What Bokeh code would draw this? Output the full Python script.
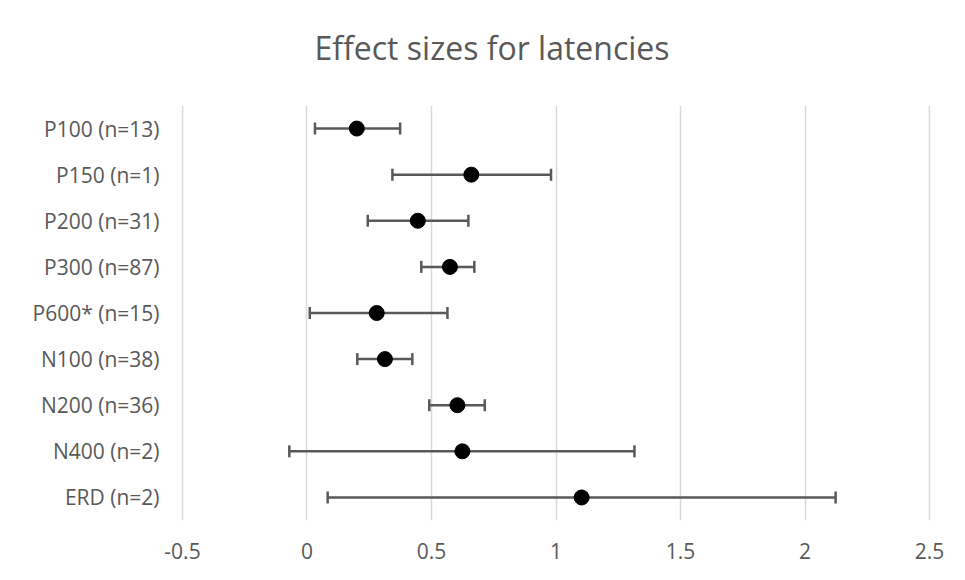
from bokeh.plotting import figure
from bokeh.models import ColumnDataSource, FactorRange, FixedTicker, Whisker, TeeHead, Range1d, Title
from bokeh.embed import file_html
from bokeh.resources import INLINE

categories = ["P100 (n=13)", "P150 (n=1)", "P200 (n=31)", "P300 (n=87)", "P600* (n=15)",
              "N100 (n=38)", "N200 (n=36)", "N400 (n=2)", "ERD (n=2)"]
effect = [0.20, 0.66, 0.445, 0.574, 0.28, 0.313, 0.604, 0.624, 1.103]
lower = [0.032, 0.343, 0.244, 0.459, 0.011, 0.202, 0.491, -0.071, 0.083]
upper = [0.374, 0.98, 0.648, 0.672, 0.564, 0.423, 0.714, 1.315, 2.123]
x_ticks = [-0.5, 0, 0.5, 1, 1.5, 2, 2.5]
x_tick_labels = ["-0.5", "0", "0.5", "1", "1.5", "2", "2.5"]

TXT = "#595959"
FONT = "Open Sans"

src = ColumnDataSource(dict(cat=categories, eff=effect, lo=lower, hi=upper))

p = figure(width=949, height=564, output_backend="svg", toolbar_location=None,
           y_range=FactorRange(factors=list(reversed(categories)), range_padding=0),
           x_range=Range1d(-0.504, 2.504),
           min_border_left=181, min_border_right=19, min_border_top=105, min_border_bottom=44)

p.title.text = "Effect sizes for latencies"
p.title.align = "left"
p.title.offset = 133
p.title.standoff = 10
p.title.text_font = FONT
p.title.text_font_size = "32px"
p.title.text_font_style = "normal"
p.title.text_color = TXT

# spacer between the title and the plot area
p.add_layout(Title(text=" ", text_font_size="12px", standoff=16), "above")

p.outline_line_color = None
p.background_fill_color = "white"
p.border_fill_color = "white"

p.xgrid.grid_line_color = "#d9d9d9"
p.xgrid.grid_line_width = 1.5
p.ygrid.grid_line_color = None

p.xaxis.ticker = FixedTicker(ticks=x_ticks)
p.xaxis.major_label_overrides = {t: l for t, l in zip(x_ticks, x_tick_labels)}
for ax in (p.xaxis, p.yaxis):
    ax.axis_line_color = None
    ax.major_tick_line_color = None
    ax.minor_tick_line_color = None
    ax.major_tick_in = 0
    ax.major_tick_out = 0
    ax.major_label_text_font = FONT
    ax.major_label_text_font_size = "21px"
    ax.major_label_text_color = TXT
p.xaxis.major_label_standoff = 22
p.yaxis.major_label_standoff = 22

wh = Whisker(source=src, base="cat", lower="lo", upper="hi", dimension="width",
             line_color="#595959", line_width=2.5,
             upper_head=TeeHead(size=12, line_color="#595959", line_width=2.5),
             lower_head=TeeHead(size=12, line_color="#595959", line_width=2.5))
p.add_layout(wh)

p.scatter(x="eff", y="cat", source=src, size=15, fill_color="black", line_color="black")

open("out.html", "w").write(file_html(p, INLINE))
